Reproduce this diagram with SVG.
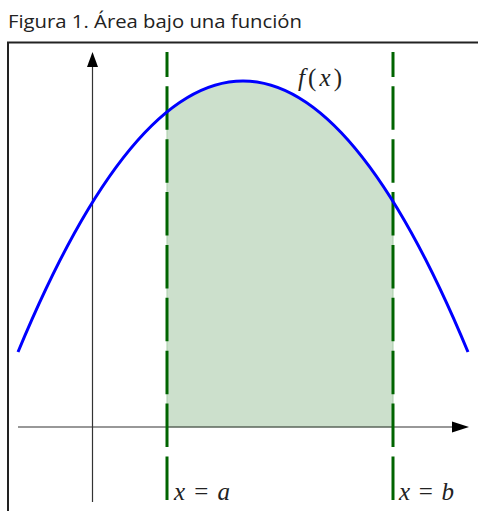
<svg xmlns="http://www.w3.org/2000/svg" width="478" height="511" viewBox="0 0 478 511">
<style>
.title{font-family:"Open Sans","Noto Sans",sans-serif;font-size:19px;fill:#222}
.math{font-family:"Liberation Serif",serif;font-style:italic;font-size:25px;fill:#222}
.mathu{font-family:"Liberation Serif",serif;font-style:normal;font-size:25px;fill:#222}
.axis{stroke:#333;stroke-width:1.2;fill:none}
.bound{stroke:#006400;stroke-width:3;fill:none;stroke-dasharray:43.5 9.36;stroke-dashoffset:18.5}
.frame{stroke:#222;stroke-width:2;fill:none}
</style>
<rect width="478" height="511" fill="#fff"/>
<text class="title" x="8" y="28" textLength="294" lengthAdjust="spacingAndGlyphs">Figura 1. Área bajo una función</text>
<g id="frame">
<path class="frame" d="M8,511 V42.5 H478"/>
</g>
<g id="area">
<path d="M167,427 V111.9 Q280,20 393,201.4 V427 Z" fill="#cce0cc" stroke="#a9cfa9" stroke-width="1"/>
</g>
<g id="connectors">
<line class="axis" x1="18" y1="427" x2="455" y2="427"/>
<polygon points="469,427 452,421.5 452,432.5" fill="#000"/>
<line class="axis" x1="92.5" y1="502" x2="92.5" y2="64"/>
<polygon points="92.5,52 87,67 98,67" fill="#000"/>
<line class="bound" x1="167" y1="52" x2="167" y2="502"/>
<line class="bound" x1="393" y1="52" x2="393" y2="502"/>
</g>
<g id="curve">
<path d="M18,352 Q243,-190 468,352" fill="none" stroke="#0000ff" stroke-width="3"/>
</g>
<g id="label-f">
<text class="math" x="298" y="86" textLength="44" lengthAdjust="spacing">f<tspan class="mathu">(</tspan>x<tspan class="mathu">)</tspan></text>
</g>
<g id="label-a">
<text class="math" x="174" y="500" textLength="56" lengthAdjust="spacing">x <tspan class="mathu">=</tspan> a</text>
</g>
<g id="label-b">
<text class="math" x="399" y="500" textLength="55" lengthAdjust="spacing">x <tspan class="mathu">=</tspan> b</text>
</g>
</svg>
